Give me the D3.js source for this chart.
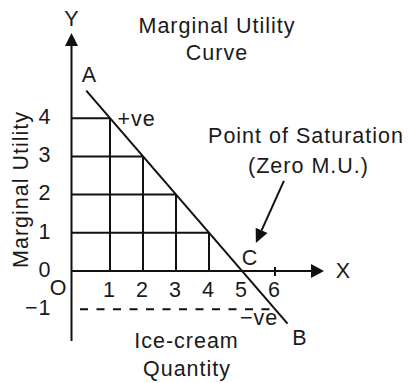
<!DOCTYPE html>
<html>
<head>
<meta charset="utf-8">
<script src="https://cdn.jsdelivr.net/npm/d3@7/dist/d3.min.js"></script>
<style>
  html, body { margin: 0; padding: 0; background: #fff; }
  svg { display: block; }
  text { font-family: "Liberation Sans", Arial, Helvetica, sans-serif; font-size: 21.5px; fill: #1a1a1a; letter-spacing: 1px; }
</style>
</head>
<body>
<svg id="chart" width="409" height="383"></svg>
<script>
// Units of ice-cream consumed and the marginal utility of each unit
const quantity = [1, 2, 3, 4, 5, 6];
const marginalUtility = [4, 3, 2, 1, 0, -1];
const yTickValues = [4, 3, 2, 1, 0, -1];
// End points of the drawn MU line (A at the top, B at the bottom)
const curveQ = [0.28, 6.38];
const curveMU = [4.72, -1.38];

const svg = d3.select("#chart");
const ink = "#111";

const x = d3.scaleLinear().domain([0, 6]).range([77, 275]);
const y = d3.scaleLinear().domain([-1, 4]).range([309.2, 118.2]);

const axisX = 71.5;       // where the vertical (Y) axis is drawn
const y0 = y(0);

// Grid under the curve: verticals from the X axis up to the curve,
// horizontals from the Y axis across to the curve
const grid = svg.append("g").attr("stroke", ink).attr("stroke-width", 2);
quantity.forEach((q, i) => {
  const mu = marginalUtility[i];
  if (mu > 0) {
    grid.append("line")
      .attr("x1", x(q)).attr("x2", x(q))
      .attr("y1", y0).attr("y2", y(mu));
    grid.append("line")
      .attr("x1", axisX).attr("x2", x(q))
      .attr("y1", y(mu)).attr("y2", y(mu));
  }
});

// Dashed guide at MU = -1 over to the 6th unit
const lastI = quantity.length - 1;
svg.append("line")
  .attr("x1", 80).attr("x2", x(quantity[lastI]))
  .attr("y1", y(marginalUtility[lastI])).attr("y2", y(marginalUtility[lastI]))
  .attr("stroke", ink).attr("stroke-width", 2)
  .attr("stroke-dasharray", "8,8.5");

// Small tick at the 6th unit
svg.append("line")
  .attr("x1", x(6)).attr("x2", x(6))
  .attr("y1", y0 - 4).attr("y2", y0 + 5)
  .attr("stroke", ink).attr("stroke-width", 2);

// Axes with arrow heads
svg.append("line")
  .attr("x1", axisX).attr("x2", axisX)
  .attr("y1", 341).attr("y2", 44)
  .attr("stroke", ink).attr("stroke-width", 2);
svg.append("path")
  .attr("d", `M${axisX},33 L${axisX - 6.5},46 L${axisX + 6.5},46 Z`)
  .attr("fill", ink);

svg.append("line")
  .attr("x1", axisX).attr("x2", 313)
  .attr("y1", y0).attr("y2", y0)
  .attr("stroke", ink).attr("stroke-width", 2);
svg.append("path")
  .attr("d", `M324,${y0} L311,${y0 - 7} L311,${y0 + 7} Z`)
  .attr("fill", ink);

// Marginal utility line A–B
const line = d3.line().x(d => x(d[0])).y(d => y(d[1]));
svg.append("path")
  .datum(curveQ.map((q, i) => [q, curveMU[i]]))
  .attr("d", line)
  .attr("fill", "none")
  .attr("stroke", ink).attr("stroke-width", 2);

// Tick labels
const fmt = v => (v < 0 ? "\u2212" + Math.abs(v) : String(v));
const xAxis = svg.append("g")
  .attr("transform", `translate(0,${y0})`)
  .call(d3.axisBottom(x).tickValues(quantity).tickSize(0).tickPadding(11).tickFormat(fmt));
const yAxis = svg.append("g")
  .attr("transform", `translate(${axisX},0)`)
  .call(d3.axisLeft(y).tickValues(yTickValues).tickSize(0).tickPadding(20).tickFormat(fmt));
[xAxis, yAxis].forEach(g => {
  g.select(".domain").remove();
  g.selectAll("text")
    .attr("font-family", null).attr("font-size", null)
    .style("fill", "#1a1a1a");
  g.attr("font-family", null).attr("font-size", null);
});
xAxis.selectAll("text").attr("dx", "-0.05em");
yAxis.selectAll("text").attr("dy", "0.25em");

// Arrow pointing at the saturation point
const arrowFrom = [x(6.27), y(2.36)];
const arrowTo = [x(5.42), y(0.73)];
const ang = Math.atan2(arrowTo[1] - arrowFrom[1], arrowTo[0] - arrowFrom[0]);
const headLen = 14, headHalf = 6.5;
const bx = arrowTo[0] - headLen * Math.cos(ang), by = arrowTo[1] - headLen * Math.sin(ang);
svg.append("line")
  .attr("x1", arrowFrom[0]).attr("y1", arrowFrom[1])
  .attr("x2", bx).attr("y2", by)
  .attr("stroke", ink).attr("stroke-width", 2);
svg.append("path")
  .attr("d", `M${arrowTo[0]},${arrowTo[1]}
              L${bx + headHalf * Math.sin(ang)},${by - headHalf * Math.cos(ang)}
              L${bx - headHalf * Math.sin(ang)},${by + headHalf * Math.cos(ang)} Z`)
  .attr("fill", ink);

// Text annotations
const labels = [
  { t: "Marginal Utility", x: 217, y: 33.3, a: "middle" },
  { t: "Curve", x: 217, y: 60, a: "middle" },
  { t: "Y", x: 72, y: 26, a: "middle" },
  { t: "X", x: 343.5, y: 277.5, a: "middle" },
  { t: "O", x: 58.5, y: 294.5, a: "middle" },
  { t: "A", x: 89.5, y: 81.7, a: "middle" },
  { t: "+ve", x: 117.5, y: 126, a: "start" },
  { t: "C", x: 250, y: 265, a: "middle" },
  { t: "\u2212ve", x: 240, y: 325, a: "start" },
  { t: "B", x: 300, y: 345, a: "middle" },
  { t: "Point of Saturation", x: 306, y: 143.3, a: "middle" },
  { t: "(Zero M.U.)", x: 308.5, y: 173.3, a: "middle" },
  { t: "Ice-cream", x: 186.5, y: 347.5, a: "middle" },
  { t: "Quantity", x: 187, y: 376, a: "middle" }
];
svg.append("g").selectAll("text").data(labels).join("text")
  .attr("x", d => d.x).attr("y", d => d.y)
  .attr("text-anchor", d => d.a)
  .text(d => d.t);

// Rotated Y axis title
svg.append("text")
  .attr("transform", "translate(27.5,189.5) rotate(-90)")
  .attr("text-anchor", "middle")
  .text("Marginal Utility");
</script>
</body>
</html>
